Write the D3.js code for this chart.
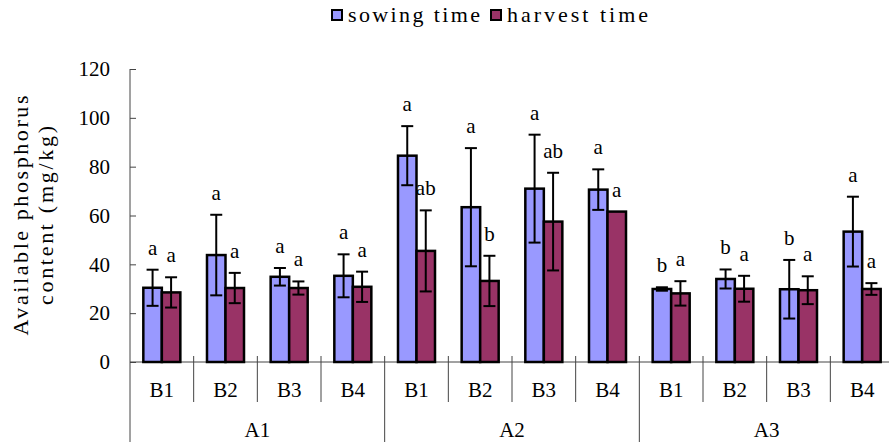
<!DOCTYPE html>
<html>
<head>
<meta charset="utf-8">
<script src="https://cdn.jsdelivr.net/npm/d3@7"></script>
<style>
  body { margin: 0; background: #fff; }
  svg { display: block; font-family: "Liberation Serif", "DejaVu Serif", serif; }
</style>
</head>
<body>
<div id="chart"></div>
<script>
// chart data
const groups = ["A1", "A2", "A3"];
const subs = ["B1", "B2", "B3", "B4"];
const seriesNames = ["sowing time", "harvest time"];
const sowingMean = [30.4, 43.8, 34.9, 35.3, 84.5, 63.4, 71.0, 70.6, 29.9, 34.0, 29.8, 53.4];
const sowingErr = [7.4, 16.5, 3.6, 8.8, 12.1, 24.2, 22.1, 8.3, 0.7, 3.9, 12.0, 14.3];
const harvestMean = [28.5, 30.3, 30.3, 30.8, 45.5, 33.2, 57.5, 61.6, 28.1, 30.0, 29.4, 29.9];
const harvestErr = [6.2, 6.2, 2.7, 6.2, 16.6, 10.3, 20.0, 0, 5.0, 5.3, 5.7, 2.4];
const sowingLetters = ["a", "a", "a", "a", "a", "a", "a", "a", "b", "b", "b", "a"];
const harvestLetters = ["a", "a", "a", "a", "ab", "b", "ab", "a", "a", "a", "a", "a"];
const yTicks = [0, 20, 40, 60, 80, 100, 120];

const colors = ["#9999FF", "#993366"];

const width = 889, height = 442;
const margin = { top: 69, left: 130, bottom: 80 };
const plotRight = 894; // the plot runs a few pixels past the picture edge

// one row per B cell, A group kept alongside
const cells = [];
groups.forEach((g, gi) => {
  subs.forEach((s, si) => {
    const i = gi * subs.length + si;
    cells.push({
      key: g + "-" + s, group: g, sub: s,
      values: [
        { series: 0, mean: sowingMean[i], err: sowingErr[i], letter: sowingLetters[i] },
        { series: 1, mean: harvestMean[i], err: harvestErr[i], letter: harvestLetters[i] }
      ]
    });
  });
});

const svg = d3.select("#chart").append("svg")
  .attr("width", width)
  .attr("height", height)
  .attr("viewBox", `0 0 ${width} ${height}`);

const y0 = height - margin.bottom; // y of value 0
const y = d3.scaleLinear().domain([0, 120]).range([y0, margin.top]);

const x0 = d3.scaleBand()
  .domain(cells.map(d => d.key))
  .range([margin.left, plotRight])
  .padding(0);

const x1 = d3.scaleBand()
  .domain([0, 1])
  .range([0, x0.bandwidth()])
  .paddingInner(0)
  .paddingOuter(0.72);

// y axis
svg.append("g")
  .attr("transform", `translate(${margin.left},0)`)
  .call(d3.axisRight(y).tickValues(yTicks).tickSize(6).tickFormat(d3.format("d")))
  .call(g => g.select(".domain").remove())
  .call(g => g.selectAll(".tick line").attr("stroke", "#444"))
  .call(g => g.selectAll(".tick text")
    .attr("x", -20)
    .attr("text-anchor", "end")
    .attr("font-family", "Liberation Serif")
    .attr("font-size", 21)
    .attr("fill", "#000"));

svg.append("line")
  .attr("x1", margin.left).attr("x2", margin.left)
  .attr("y1", margin.top).attr("y2", height)
  .attr("stroke", "#444");

// x axis line
svg.append("line")
  .attr("x1", margin.left).attr("x2", plotRight)
  .attr("y1", y0).attr("y2", y0)
  .attr("stroke", "#444");

// B dividers (short) and A dividers (full height)
cells.forEach((d, i) => {
  const xr = x0(d.key) + x0.bandwidth();
  const isGroupEnd = (i + 1) % subs.length === 0;
  svg.append("line")
    .attr("x1", xr).attr("x2", xr)
    .attr("y1", y0 - 6).attr("y2", isGroupEnd ? height : y0 + 40)
    .attr("stroke", "#444");
});

// B labels
svg.append("g").selectAll("text")
  .data(cells)
  .join("text")
  .attr("x", d => x0(d.key) + x0.bandwidth() / 2)
  .attr("y", y0 + 35)
  .attr("text-anchor", "middle")
  .attr("font-size", 21)
  .text(d => d.sub);

// A labels
svg.append("g").selectAll("text")
  .data(groups)
  .join("text")
  .attr("x", g => {
    const first = x0(g + "-" + subs[0]);
    const last = x0(g + "-" + subs[subs.length - 1]) + x0.bandwidth();
    return (first + last) / 2;
  })
  .attr("y", y0 + 75)
  .attr("text-anchor", "middle")
  .attr("font-size", 21)
  .text(g => g);

// bars
const cell = svg.append("g").selectAll("g")
  .data(cells)
  .join("g")
  .attr("transform", d => `translate(${x0(d.key)},0)`);

cell.selectAll("rect")
  .data(d => d.values)
  .join("rect")
  .attr("x", v => x1(v.series))
  .attr("width", x1.bandwidth())
  .attr("y", v => y(v.mean))
  .attr("height", v => y0 - y(v.mean))
  .attr("fill", v => colors[v.series])
  .attr("stroke", "#000")
  .attr("stroke-width", 2.5);

// error bars
const errs = cell.selectAll("g.err")
  .data(d => d.values.filter(v => v.err > 0))
  .join("g")
  .attr("class", "err")
  .attr("stroke", "#000")
  .attr("stroke-width", 2);

errs.append("line")
  .attr("x1", v => x1(v.series) + x1.bandwidth() / 2)
  .attr("x2", v => x1(v.series) + x1.bandwidth() / 2)
  .attr("y1", v => y(v.mean + v.err))
  .attr("y2", v => y(v.mean - v.err));

[1, -1].forEach(sign => {
  errs.append("line")
    .attr("x1", v => x1(v.series) + x1.bandwidth() / 2 - 6)
    .attr("x2", v => x1(v.series) + x1.bandwidth() / 2 + 6)
    .attr("y1", v => y(v.mean + sign * v.err))
    .attr("y2", v => y(v.mean + sign * v.err));
});

// significance letters
cell.selectAll("text")
  .data(d => d.values)
  .join("text")
  .attr("x", v => x1(v.series) + x1.bandwidth() / 2)
  .attr("y", v => y(v.mean + v.err) - 15)
  .attr("text-anchor", "middle")
  .attr("font-size", 21)
  .text(v => v.letter);

// y axis title
const title = svg.append("text")
  .attr("transform", `translate(0,${(y0 + margin.top) / 2}) rotate(-90)`)
  .attr("text-anchor", "middle")
  .attr("font-size", 22);
title.append("tspan").attr("x", 0).attr("y", 28)
  .attr("textLength", 240).attr("lengthAdjust", "spacing")
  .text("Available phosphorus");
title.append("tspan").attr("x", 0).attr("y", 53)
  .attr("textLength", 179).attr("lengthAdjust", "spacing")
  .text("content (mg/kg)");

// legend
const legendX = [332, 491];
const legendLen = [132, 141];
const legend = svg.append("g").selectAll("g")
  .data(seriesNames)
  .join("g");

legend.append("rect")
  .attr("x", (d, i) => legendX[i])
  .attr("y", 10)
  .attr("width", 10)
  .attr("height", 10)
  .attr("fill", (d, i) => colors[i])
  .attr("stroke", "#000")
  .attr("stroke-width", 2);

legend.append("text")
  .attr("x", (d, i) => legendX[i] + 16)
  .attr("y", 22)
  .attr("font-size", 22)
  .attr("textLength", (d, i) => legendLen[i])
  .attr("lengthAdjust", "spacing")
  .text(d => d);
</script>
</body>
</html>
